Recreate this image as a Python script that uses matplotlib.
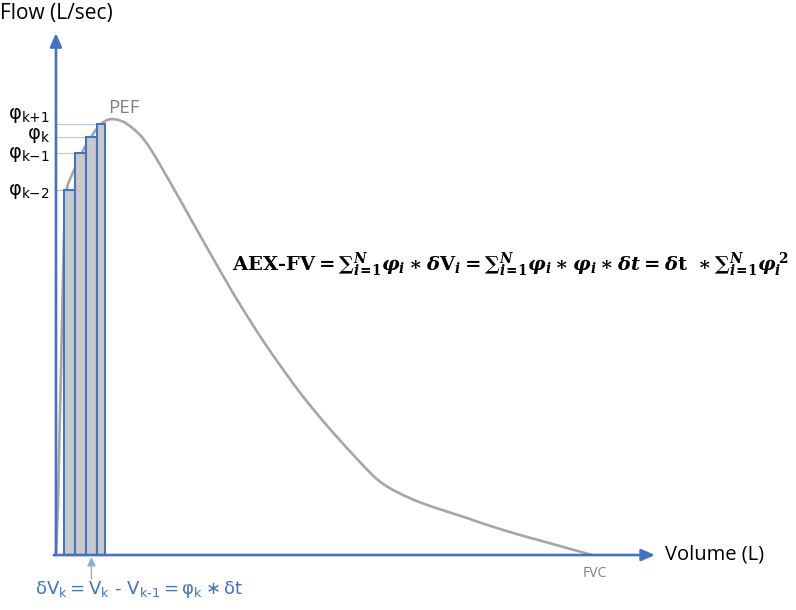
import matplotlib
matplotlib.use('Agg')
import matplotlib.pyplot as plt

# ---- data (volume in L, flow in L/s) ----
volume = [0.0, 0.019, 0.028, 0.037, 0.047, 0.056, 0.065, 0.075, 0.084, 0.093,
          0.112, 0.140, 0.177, 0.224, 0.270, 0.317, 0.364, 0.410, 0.457, 0.494,
          0.522, 0.578, 0.634, 0.690, 0.746, 0.802, 0.858, 0.914, 0.970, 1.026,
          1.082, 1.157, 1.250, 1.343, 1.437, 1.530, 1.651, 1.763, 1.875, 1.996,
          2.118, 2.229, 2.341, 2.463, 2.584, 2.705, 2.817, 2.910, 2.976, 3.032,
          3.088, 3.144, 3.237, 3.330, 3.424, 3.517, 3.675, 3.834, 3.983, 4.142,
          4.328, 4.515, 4.701, 4.851, 5.0]
flow = [0.0, 1.147, 2.179, 3.211, 4.243, 5.275, 6.307, 7.339, 8.028, 8.326,
        8.509, 8.670, 8.876, 9.128, 9.358, 9.541, 9.725, 9.862, 9.954, 9.991,
        10.0, 9.982, 9.931, 9.839, 9.725, 9.587, 9.404, 9.186, 8.956, 8.716,
        8.475, 8.149, 7.741, 7.333, 6.927, 6.525, 6.009, 5.562, 5.126, 4.679,
        4.255, 3.876, 3.521, 3.154, 2.810, 2.477, 2.179, 1.938, 1.778, 1.663,
        1.571, 1.491, 1.376, 1.273, 1.181, 1.101, 0.975, 0.849, 0.722, 0.596,
        0.459, 0.333, 0.206, 0.103, 0.0]
bar_left = [0.075, 0.177, 0.280, 0.382]
bar_width = [0.102, 0.103, 0.102, 0.075]
bar_flow = [8.372, 9.220, 9.587, 9.885]
bar_sub = ['k\u22122', 'k\u22121', 'k', 'k+1']
pef_volume, pef_flow = 0.522, 10.0
fvc_volume = 5.0
x_axis_end = 5.588
y_axis_end = 11.97

BLUE = '#4472c4'
GRAY = '#a6a6a6'

plt.rcParams['mathtext.fontset'] = 'custom'
plt.rcParams['mathtext.rm'] = 'DejaVu Serif:bold'
plt.rcParams['mathtext.it'] = 'DejaVu Serif:italic:bold'
plt.rcParams['mathtext.bf'] = 'DejaVu Serif:bold'

fig = plt.figure(figsize=(7.96, 6.10), dpi=100)
ax = fig.add_axes([0, 0, 1, 1])
ax.set_xlim(-0.522, 6.903)
ax.set_ylim(-1.261, 12.729)
ax.axis('off')

# curve
ax.plot(volume, flow, color=GRAY, lw=1.9, solid_capstyle='round',
        solid_joinstyle='round', zorder=2)

# reference lines
ax.hlines(bar_flow, 0, bar_left, color='#b4c7e7', lw=0.8, zorder=1)

# bars
ax.bar(bar_left, bar_flow, width=bar_width, align='edge', color='#c9c9c9',
       edgecolor=BLUE, linewidth=1.5, zorder=3)

# axes arrows
arrow_kw = dict(arrowstyle='-|>,head_length=0.8,head_width=0.35', color=BLUE,
                lw=1.9, shrinkA=0, shrinkB=0)
ax.annotate('', xy=(0, y_axis_end), xytext=(0, 0), arrowprops=arrow_kw, zorder=4)
ax.annotate('', xy=(x_axis_end, 0), xytext=(-0.02, 0), arrowprops=arrow_kw, zorder=4)

# phi labels
label_dy = [-1.4, -1.4, 1.2, 6.2]   # vertical offsets (points)
for f, s, dy in zip(bar_flow, bar_sub, label_dy):
    ax.annotate(r'$\mathrm{\varphi}_{\text{%s}}$' % s, xy=(0, f),
                xytext=(-4.5, dy), textcoords='offset points',
                math_fontfamily='dejavusans', fontsize=14,
                ha='right', va='center', color='black')

# PEF / FVC
ax.text(pef_volume - 0.037, pef_flow + 0.05, 'PEF', family='Open Sans', fontsize=13.5,
        color='#808080', ha='left', va='bottom')
ax.text(fvc_volume + 0.03, -0.25, 'FVC', family='Open Sans', fontsize=10,
        color='#808080', ha='center', va='top')

# axis titles
ax.text(0.0, 1 - 14 / 610, 'Flow (L/sec)', transform=ax.transAxes,
        family='Open Sans', fontsize=15, ha='left', va='center')
ax.text(x_axis_end + 0.09, 0.02, 'Volume (L)', family='Open Sans', fontsize=14.5,
        ha='left', va='center')

# pointer arrow to bar k
kx = bar_left[2] + bar_width[2] / 2
ax.annotate('', xy=(kx, -0.05), xytext=(kx, -0.55),
            arrowprops=dict(arrowstyle='-|>,head_length=0.5,head_width=0.25',
                            color='#8faadc', lw=1.0, shrinkA=0, shrinkB=0))
ax.text(-0.196, -0.80,
        r'$\mathrm{\delta V_k = V_k\ \text{-}\ V_{\text{k-1}} = \varphi_k \ast \delta t}$',
        math_fontfamily='dejavusans', fontsize=13, color=BLUE, ha='left', va='center')

# formula
formula = (r'$\text{AEX-FV} = ∑_{i\!=\!1}^{N}\varphi_i \ast \delta\mathrm{V}_i'
           r' = ∑_{i\!=\!1}^{N}\varphi_i \ast \varphi_i \ast \delta t'
           r' = \delta\mathrm{t}\ \ast ∑_{i\!=\!1}^{N}\varphi_i^{\,2}$')
ax.text(1.642, 6.65, formula, math_fontfamily='custom', fontsize=14,
        ha='left', va='center', color='black')

fig.savefig('out.png', dpi=100)
